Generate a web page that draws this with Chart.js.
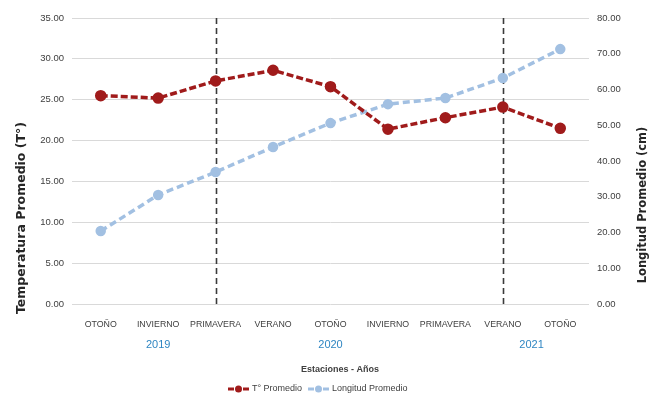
<!DOCTYPE html>
<html>
<head>
<meta charset="utf-8">
<script src="https://cdn.jsdelivr.net/npm/chart.js@4.4.1/dist/chart.umd.min.js"></script>
<style>
  html, body { margin: 0; padding: 0; background: #ffffff; }
  #wrap { width: 656px; height: 401px; position: relative; }
</style>
</head>
<body>
<div id="wrap"><canvas id="c" width="656" height="401"></canvas></div>
<script>
// Seasons on the x axis
const seasons = ['OTOÑO', 'INVIERNO', 'PRIMAVERA', 'VERANO', 'OTOÑO', 'INVIERNO', 'PRIMAVERA', 'VERANO', 'OTOÑO'];
// Average temperature (°C), left axis
const temperatura = [25.5, 25.2, 27.3, 28.6, 26.6, 21.4, 22.8, 24.1, 21.5];
// Average length (cm), right axis
const longitud = [20.4, 30.5, 36.9, 43.9, 50.6, 55.9, 57.6, 63.2, 71.3];
// Year labels and the category position they sit under
const years = ['2019', '2020', '2021'];
const yearPositions = [1, 4, 7.5];
// Categories marked with a vertical dashed separator
const separators = [2, 7];

const RED = '#a01b1b';
const BLUE = '#a2c0e2';
const SANS = "'Liberation Sans', Arial, sans-serif";
const WIDE = "'DejaVu Sans', 'Liberation Sans', sans-serif";

const extras = {
  id: 'extras',
  beforeDatasetsDraw(chart) {
    const { ctx, chartArea: a, scales } = chart;
    ctx.save();
    ctx.strokeStyle = '#3a3a3a';
    ctx.lineWidth = 1.6;
    ctx.setLineDash([6, 4]);
    separators.forEach(i => {
      const x = Math.round(scales.x.getPixelForValue(i)) + 0.5;
      ctx.beginPath();
      ctx.moveTo(x, a.top);
      ctx.lineTo(x, a.bottom);
      ctx.stroke();
    });
    ctx.restore();
  },
  afterDraw(chart) {
    const { ctx, chartArea: a, scales } = chart;
    ctx.save();
    // years under the season labels
    ctx.fillStyle = '#2f86c2';
    ctx.font = `11px ${SANS}`;
    ctx.textAlign = 'center';
    ctx.textBaseline = 'middle';
    years.forEach((y, k) => {
      ctx.fillText(y, scales.x.getPixelForValue(yearPositions[k]), 345);
    });
    // x axis title
    ctx.fillStyle = '#404040';
    ctx.font = `bold 9px ${SANS}`;
    ctx.fillText('Estaciones - Años', 340, 370);
    // left axis title
    ctx.font = `bold 12.5px ${WIDE}`;
    ctx.fillStyle = '#262626';
    ctx.save();
    ctx.translate(22, 218);
    ctx.rotate(-Math.PI / 2);
    ctx.fillText('Temperatura Promedio (T°)', 0, 0);
    ctx.restore();
    // right axis title
    ctx.font = `bold 11.5px ${WIDE}`;
    ctx.save();
    ctx.translate(643, 205);
    ctx.rotate(-Math.PI / 2);
    ctx.fillText('Longitud Promedio (cm)', 0, 0);
    ctx.restore();
    // legend
    const items = [
      { text: 'T° Promedio', color: RED, x: 228 },
      { text: 'Longitud Promedio', color: BLUE, x: 308 }
    ];
    const ly = 389;
    ctx.font = `9px ${SANS}`;
    ctx.textAlign = 'left';
    items.forEach(it => {
      ctx.strokeStyle = it.color;
      ctx.lineWidth = 3;
      ctx.beginPath(); ctx.moveTo(it.x, ly); ctx.lineTo(it.x + 6, ly); ctx.stroke();
      ctx.beginPath(); ctx.moveTo(it.x + 15, ly); ctx.lineTo(it.x + 21, ly); ctx.stroke();
      ctx.fillStyle = it.color;
      ctx.beginPath(); ctx.arc(it.x + 10.5, ly, 3.5, 0, Math.PI * 2); ctx.fill();
      ctx.fillStyle = '#404040';
      ctx.textBaseline = 'middle';
      ctx.fillText(it.text, it.x + 24, ly);
    });
    ctx.restore();
  }
};

new Chart(document.getElementById('c'), {
  type: 'line',
  data: {
    labels: seasons,
    datasets: [
      {
        label: 'T° Promedio',
        data: temperatura,
        yAxisID: 'y',
        borderColor: RED,
        backgroundColor: RED,
        borderWidth: 3.5,
        borderDash: [7, 3],
        pointRadius: 4,
        pointBackgroundColor: RED,
        pointBorderColor: RED,
        tension: 0
      },
      {
        label: 'Longitud Promedio',
        data: longitud,
        yAxisID: 'y1',
        borderColor: BLUE,
        backgroundColor: BLUE,
        borderWidth: 3.5,
        borderDash: [7, 4],
        pointRadius: 3.5,
        pointBackgroundColor: BLUE,
        pointBorderColor: BLUE,
        tension: 0
      }
    ]
  },
  options: {
    responsive: false,
    animation: false,
    layout: { padding: { top: 18, left: 0, right: 0, bottom: 0 } },
    plugins: { legend: { display: false }, tooltip: { enabled: false } },
    scales: {
      x: {
        offset: true,
        grid: { display: false, drawTicks: false },
        border: { display: false },
        ticks: { color: '#404040', font: { family: SANS, size: 8.8 }, padding: 15, maxRotation: 0, autoSkip: false },
        afterFit(s) { s.height = 97; }
      },
      y: {
        position: 'left',
        min: 0, max: 35,
        ticks: { stepSize: 5, color: '#404040', font: { family: SANS, size: 9.5 }, padding: 8,
          callback: v => v.toFixed(2) },
        grid: { color: '#d9d9d9', drawTicks: false },
        border: { display: false },
        afterFit(s) { s.width = 72; }
      },
      y1: {
        position: 'right',
        min: 0, max: 80,
        ticks: { stepSize: 10, color: '#404040', font: { family: SANS, size: 9.5 }, padding: 8,
          callback: v => v.toFixed(2) },
        grid: { display: false, drawTicks: false },
        border: { display: false },
        afterFit(s) { s.width = 67; }
      }
    }
  },
  plugins: [extras]
});
</script>
</body>
</html>
